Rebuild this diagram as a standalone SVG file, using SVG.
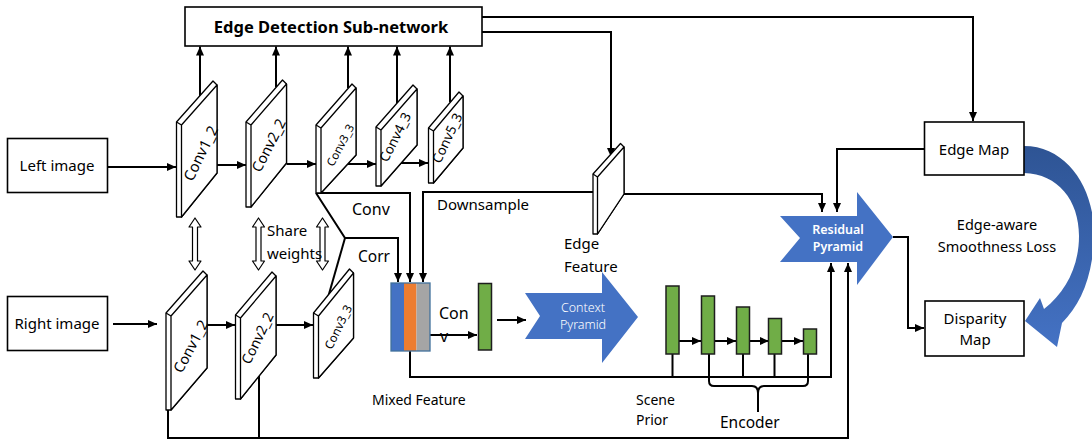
<svg xmlns="http://www.w3.org/2000/svg" width="1092" height="441" viewBox="0 0 1092 441">
  <style>
    text { font-family: "Noto Sans", "Liberation Sans", sans-serif; fill: #000; }
    .lbl { font-size: 15px; }
    .mid { text-anchor: middle; }
    .box { fill: #fff; stroke: #000; stroke-width: 1.6; }
    .slab { fill: #fff; stroke: #000; stroke-width: 1.3; stroke-linejoin: round; }
    .face { fill: #fff; stroke: #000; stroke-width: 1.3; stroke-linejoin: round; }
    .plab { font-size: 14px; text-anchor: middle; dominant-baseline: central; }
    .wire { fill: none; stroke: #000; stroke-width: 2; }
    .arr { fill: none; stroke: #000; stroke-width: 2; marker-end: url(#ah); }
    .bar { fill: #70AD47; stroke: #1e1e1e; stroke-width: 1.5; }
    .pyr { fill: #4472C4; }
    .pyrtxt { font-size: 12.5px; fill: #fff; text-anchor: middle; }
    .dbl { fill: #fff; stroke: #000; stroke-width: 1.2; stroke-linejoin: round; }
  </style>
  <defs>
    <marker id="ah" markerWidth="9" markerHeight="8" refX="9" refY="4" orient="auto" markerUnits="userSpaceOnUse">
      <path d="M0,0 L9,4 L0,8 z" fill="#000"/>
    </marker>
    <linearGradient id="arcfill" x1="0" y1="0" x2="0" y2="1">
      <stop offset="0" stop-color="#2E5494"/>
      <stop offset="1" stop-color="#4472C4"/>
    </linearGradient>
  </defs>

  <!-- connectors -->
  <g id="connectors">
    <!-- inputs into the first feature planes -->
    <path class="arr" d="M107,167 H176"/>
    <path class="arr" d="M113,324 H157"/>
    <!-- left branch -->
    <path class="arr" d="M217,165 H246"/>
    <path class="arr" d="M286.5,164 H316"/>
    <path class="arr" d="M347,164 H376"/>
    <path class="arr" d="M400,163 H428"/>
    <!-- right branch -->
    <path class="arr" d="M207,325 H235"/>
    <path class="arr" d="M276,325 H313"/>
    <!-- side outputs to the edge sub-network -->
    <path class="arr" d="M200,96 V46.5"/>
    <path class="arr" d="M276,87 V46.5"/>
    <path class="arr" d="M348,88 V46.5"/>
    <path class="arr" d="M397,103 V46.5"/>
    <path class="arr" d="M450,102 V46.5"/>
    <!-- edge sub-network outputs -->
    <path class="arr" d="M482,17 H973 V121"/>
    <path class="arr" d="M482,32 H611 V157"/>
    <!-- conv / corr / downsample into mixed feature -->
    <path class="arr" d="M316,193 H410 V282"/>
    <path class="arr" d="M316,193 L345,238 H398 V282"/>
    <path class="wire" d="M345,238 L327,301"/>
    <path class="arr" d="M594,192 H423 V282"/>
    <path class="wire" d="M594.5,176 V194" style="stroke-width:2.6"/>
    <!-- edge feature and edge map into residual pyramid -->
    <path class="arr" d="M624,194 H822 V212"/>
    <path class="arr" d="M924,149 H837 V212"/>
    <!-- mixed feature -> conv -> context pyramid -->
    <path class="arr" d="M430,335 H477"/>
    <path class="arr" d="M497,320 H526"/>
    <!-- encoder chain -->
    <path class="arr" d="M679,341 H701"/>
    <path class="arr" d="M714.5,341 H736"/>
    <path class="arr" d="M749.5,341 H769"/>
    <path class="arr" d="M782,341 H803"/>
    <!-- skip paths into residual pyramid -->
    <path class="arr" d="M410,351 V377 H831 V263"/>
    <path class="wire" d="M672.5,354 V377"/>
    <path class="wire" d="M743,354 V377"/>
    <path class="wire" d="M774.5,354 V377"/>
    <path class="arr" d="M168,410 V438 H848 V263"/>
    <path class="wire" d="M259,376 V438"/>
    <!-- encoder brace -->
    <path class="wire" d="M709,354 V381 Q709,386 714,386 H752 Q758,386 758,393 V412 M758,393 Q758,386 764,386 H803 Q808,386 808,381 V354"/>
    <!-- residual pyramid -> disparity map -->
    <path class="arr" d="M893,237 H908 V328 H924"/>
    <!-- edge-aware smoothness loss arc -->
    <path d="M1024,146 C1068,146 1095,190 1094,236 C1093,276 1081,304 1062,323 L1057,347 L1025,321 L1040,298 L1044,309 C1066,292 1079,266 1079,236 C1079,200 1058,174 1024,173 Z" fill="url(#arcfill)"/>
    <!-- share weights -->
    <path class="dbl" d="M195,218 L201,227 L197.5,227 L197.5,261 L201,261 L195,270 L189,261 L192.5,261 L192.5,227 L189,227 Z"/>
    <path class="dbl" d="M258.5,218 L264.5,227 L261,227 L261,261 L264.5,261 L258.5,270 L252.5,261 L256,261 L256,227 L252.5,227 Z"/>
    <path class="dbl" d="M322.5,218 L328.5,227 L325,227 L325,261 L328.5,261 L322.5,270 L316.5,261 L320,261 L320,227 L316.5,227 Z"/>
  </g>

  <!-- connector labels -->
  <g id="connector-labels">
    <text x="352" y="215" style="font-size:16px">Conv</text>
    <text x="358" y="262" style="font-size:15.5px">Corr</text>
    <text x="437" y="210" style="font-size:15px">Downsample</text>
    <text x="267" y="236" style="font-size:15px">Share</text>
    <text x="267" y="259" style="font-size:15px">weights</text>
  </g>

  <g id="edge-detection">
    <rect class="box" x="185" y="7" width="297" height="39"/>
    <text x="331" y="33" class="mid" style="font-size:16.5px;font-weight:bold">Edge Detection Sub-network</text>
  </g>

  <g id="left-image">
    <rect class="box" x="7.5" y="138.5" width="100" height="54"/>
    <text x="57" y="171" class="lbl mid">Left image</text>
  </g>

  <g id="right-image">
    <rect class="box" x="7.5" y="296.5" width="100" height="54"/>
    <text x="57" y="329" class="lbl mid">Right image</text>
  </g>

  <!-- left branch feature planes -->
  <g id="l-conv1-2">
    <polygon class="slab" points="176.5,122 213,81 217,85 217,173 181.5,217 176.5,217"/>
    <polygon class="face" points="181.5,125 217,85 217,173 181.5,217"/>
    <line x1="176.5" y1="122" x2="181.5" y2="125" stroke="#000" stroke-width="1.2"/>
    <text class="plab" transform="translate(200,153) rotate(-64)" style="font-size:15px">Conv1_2</text>
  </g>
  <g id="l-conv2-2">
    <polygon class="slab" points="246,122 282.5,80 286.5,84 286.5,163 251,207 246,207"/>
    <polygon class="face" points="251,125 286.5,84 286.5,163 251,207"/>
    <line x1="246" y1="122" x2="251" y2="125" stroke="#000" stroke-width="1.2"/>
    <text class="plab" transform="translate(268,145) rotate(-63)" style="font-size:14.5px">Conv2_2</text>
  </g>
  <g id="l-conv3-3">
    <polygon class="slab" points="316,125 352,84 356,88 356,155 321,193 316,193"/>
    <polygon class="face" points="321,128 356,88 356,155 321,193"/>
    <line x1="316" y1="125" x2="321" y2="128" stroke="#000" stroke-width="1.2"/>
    <text class="plab" transform="translate(340,145) rotate(-62)" style="font-size:11.5px">Conv3_3</text>
  </g>
  <g id="l-conv4-3">
    <polygon class="slab" points="376,127 413,85 417,89 417,145 381,186 376,186"/>
    <polygon class="face" points="381,130 417,89 417,145 381,186"/>
    <line x1="376" y1="127" x2="381" y2="130" stroke="#000" stroke-width="1.2"/>
    <text class="plab" transform="translate(395,137) rotate(-63)" style="font-size:13.5px">Conv4_3</text>
  </g>
  <g id="l-conv5-3">
    <polygon class="slab" points="428.5,128 459,92 463,96 463,148 433.5,183 428.5,183"/>
    <polygon class="face" points="433.5,131 463,96 463,148 433.5,183"/>
    <line x1="428.5" y1="128" x2="433.5" y2="131" stroke="#000" stroke-width="1.2"/>
    <text class="plab" transform="translate(447,138) rotate(-65)" style="font-size:13.5px">Conv5_3</text>
  </g>

  <!-- right branch feature planes -->
  <g id="r-conv1-2">
    <polygon class="slab" points="166,313 203,271 207,275 207,368 171,410 166,410"/>
    <polygon class="face" points="171,316 207,275 207,368 171,410"/>
    <line x1="166" y1="313" x2="171" y2="316" stroke="#000" stroke-width="1.2"/>
    <text class="plab" transform="translate(190,346) rotate(-62)" style="font-size:14.5px">Conv1_2</text>
  </g>
  <g id="r-conv2-2">
    <polygon class="slab" points="235.5,315 272,272 276,276 276,355 240.5,399 235.5,399"/>
    <polygon class="face" points="240.5,318 276,276 276,355 240.5,399"/>
    <line x1="235.5" y1="315" x2="240.5" y2="318" stroke="#000" stroke-width="1.2"/>
    <text class="plab" transform="translate(257,338) rotate(-64)" style="font-size:14px">Conv2_2</text>
  </g>
  <g id="r-conv3-3">
    <polygon class="slab" points="313.5,313 349.5,269 353.5,273 353.5,338 318.5,378 313.5,378"/>
    <polygon class="face" points="318.5,316 353.5,273 353.5,338 318.5,378"/>
    <line x1="313.5" y1="313" x2="318.5" y2="316" stroke="#000" stroke-width="1.2"/>
    <text class="plab" transform="translate(338,327) rotate(-64)" style="font-size:12px">Conv3_3</text>
  </g>

  <g id="edge-feature">
    <polygon class="slab" points="593,174 620.5,143.5 624,147 624,194 597.5,234 593,234"/>
    <polygon class="face" points="597.5,177 624,147 624,194 597.5,234"/>
    <line x1="593" y1="174" x2="597.5" y2="177" stroke="#000" stroke-width="1.2"/>
    <text x="564" y="249" class="lbl">Edge</text>
    <text x="564" y="272" class="lbl">Feature</text>
  </g>

  <g id="mixed-feature">
    <rect x="391" y="283" width="13" height="68" fill="#4472C4"/>
    <rect x="404" y="283" width="12.5" height="68" fill="#ED7D31"/>
    <rect x="416.5" y="283" width="13.5" height="68" fill="#A5A5A5"/>
    <rect x="391" y="283" width="39" height="68" fill="none" stroke="#41719C" stroke-width="1.3"/>
    <text x="372" y="405" style="font-size:14px">Mixed Feature</text>
  </g>

  <g id="conv-step">
    <text x="439" y="319" style="font-size:16px">Con</text>
    <text x="440" y="342" style="font-size:16px">v</text>
    <rect class="bar" x="478.5" y="283.5" width="13" height="66.5"/>
  </g>

  <g id="context-pyramid">
    <polygon class="pyr" points="525,293 602,293 602,272 638,317 602,363 602,339 525,339 540,316"/>
    <text x="583" y="312" class="pyrtxt" style="font-weight:300">Context</text>
    <text x="583" y="329" class="pyrtxt" style="font-weight:300">Pyramid</text>
  </g>

  <g id="scene-prior">
    <rect class="bar" x="666" y="286" width="13" height="68"/>
    <text x="636" y="405" style="font-size:14px">Scene</text>
    <text x="636" y="425" style="font-size:14px">Prior</text>
  </g>

  <g id="encoder">
    <rect class="bar" x="701.5" y="296" width="13" height="58"/>
    <rect class="bar" x="736.5" y="307" width="13" height="47"/>
    <rect class="bar" x="768.5" y="318.5" width="13" height="35.5"/>
    <rect class="bar" x="803.5" y="329" width="13" height="25"/>
    <text x="720" y="428" style="font-size:15.5px">Encoder</text>
  </g>

  <g id="residual-pyramid">
    <polygon class="pyr" points="780,216 857,216 857,192 893,237 857,285 857,262 780,262 800,238"/>
    <text x="838" y="234" class="pyrtxt" style="font-weight:600">Residual</text>
    <text x="838" y="251" class="pyrtxt" style="font-weight:600">Pyramid</text>
  </g>

  <g id="edge-map">
    <rect class="box" x="924.5" y="122" width="99.5" height="53"/>
    <text x="974" y="155" class="lbl mid">Edge Map</text>
  </g>

  <g id="disparity-map">
    <rect class="box" x="925" y="301" width="99" height="55"/>
    <text x="975" y="324" class="lbl mid">Disparity</text>
    <text x="975" y="345" class="lbl mid">Map</text>
  </g>

  <g id="smoothness-loss">
    <text x="997" y="230" class="mid" style="font-size:14.5px">Edge-aware</text>
    <text x="997" y="252" class="mid" style="font-size:14.5px">Smoothness Loss</text>
  </g>
</svg>
